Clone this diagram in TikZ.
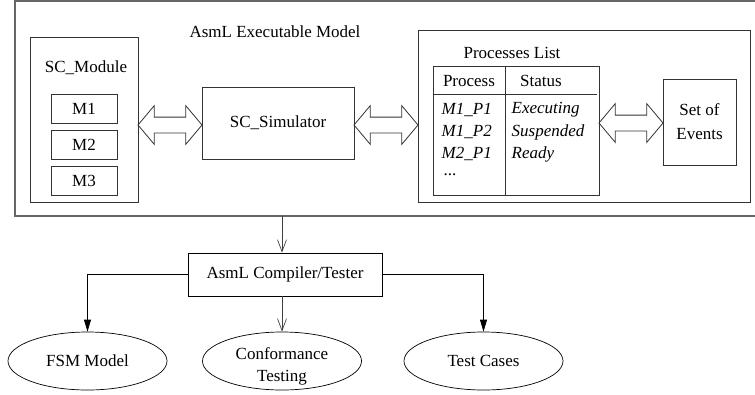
\documentclass[tikz,border=0pt]{standalone}
\usepackage{fontspec}
\setmainfont{Liberation Serif}
\usetikzlibrary{shapes.geometric,shapes.arrows,arrows.meta}

\tikzset{
  box/.style={draw=black!80,line width=0.8pt,inner sep=0pt},
  bigarrow/.style={double arrow,draw=black!80,line width=0.8pt,inner sep=7.5pt,
    double arrow head extend=11.5pt,double arrow tip angle=100},
  oval/.style={ellipse,draw,line width=0.7pt,minimum width=159pt,minimum height=58pt,
    align=center,inner sep=0pt},
  row/.style={anchor=west,inner sep=0.5pt},
  vee/.style={draw=black!75,line width=0.7pt,-{Straight Barb[length=12pt,width=9pt]}},
  tri/.style={draw,line width=0.7pt,-{Triangle[length=12pt,width=7pt]}}
}
\tikzstyle{every node}=[font=\fontsize{17}{21}\selectfont]

\begin{document}
\begin{tikzpicture}[x=1pt,y=-1pt]
    \useasboundingbox (0,0) rectangle (755,394);
    % executable model (runs off the right edge)
    \node[minimum width=740pt,minimum height=215pt,inner sep=0pt] (Model) at (385,108.5) {};
    \draw[draw=black!60,line width=1.5pt] (Model.north east) -- (Model.north west)
      -- (Model.south west) -- (Model.south east);
    \node (ModelLabel) at (275,32) {AsmL Executable Model};
    % modules
    \node[box,minimum width=108pt,minimum height=165pt] (Mod) at (84,119.5) {};
    \node (ModLabel) at (86,68) {SC\_Module};
    \node[box,minimum width=66pt,minimum height=29pt] (M1) at (84,108.5) {M1};
    \node[box,minimum width=66pt,minimum height=29pt] (M2) at (84,144.5) {M2};
    \node[box,minimum width=66pt,minimum height=29pt] (M3) at (84,180.5) {M3};
    % simulator
    \node[box,minimum width=152pt,minimum height=72pt] (Sim) at (278,123) {SC\_Simulator};
    % processes
    \node[box,minimum width=332pt,minimum height=172pt] (Proc) at (584,116) {};
    \node (ProcLabel) at (512,53) {Processes List};
    \node[box,minimum width=166pt,minimum height=129pt] (Tab) at (516,130.5) {};
    \draw[draw=black!80,line width=0.8pt] (505,66) -- (505,195);
    \draw[draw=black!80,line width=0.8pt] (433,94) -- (597,94);
    \node (Head1) at (469,81) {Process};
    \node (Head2) at (541,81) {Status};
    \node[row] (P1) at (441,110) {\textit{M1\_P1}};
    \node[row] (P2) at (441,132) {\textit{M1\_P2}};
    \node[row] (P3) at (441,154) {\textit{M2\_P1}};
    \node[row,anchor=base west] (P4) at (443,175) {...};
    \node[row] (S1) at (511,110) {\textit{Executing}};
    \node[row] (S2) at (511,132) {\textit{Suspended}};
    \node[row] (S3) at (511,154) {\textit{Ready}};
    \node[box,minimum width=73pt,minimum height=86pt,align=center] (Events) at (699.5,122) {Set of\\[3pt]Events};
    % links
    \node[bigarrow,minimum height=64pt] (A1) at (170,125) {};
    \node[bigarrow,minimum height=64pt] (A2) at (386,125) {};
    \node[bigarrow,minimum height=64pt] (A3) at (631,123) {};
    % compiler and outputs
    \node[draw,line width=0.7pt,minimum width=194pt,minimum height=43pt] (Comp) at (285,274.5) {AsmL Compiler/Tester};
    \node[oval] (FSM) at (87.5,361) {FSM Model};
    \node[oval] (Conf) at (282,361) {};
    \node[align=center,inner sep=0pt] (ConfText) at (282,366) {Conformance\\[1pt]Testing};
    \node[oval] (Tests) at (483.5,361) {Test Cases};
    \draw[vee] (Conf.north |- Model.south) -- (Conf.north |- Comp.north);
    \draw[vee] (Conf.north |- Comp.south) -- (Conf.north);
    \draw[tri] (Comp.west) -| (FSM.north);
    \draw[tri] (Comp.east) -| (Tests.north);
\end{tikzpicture}
\end{document}
